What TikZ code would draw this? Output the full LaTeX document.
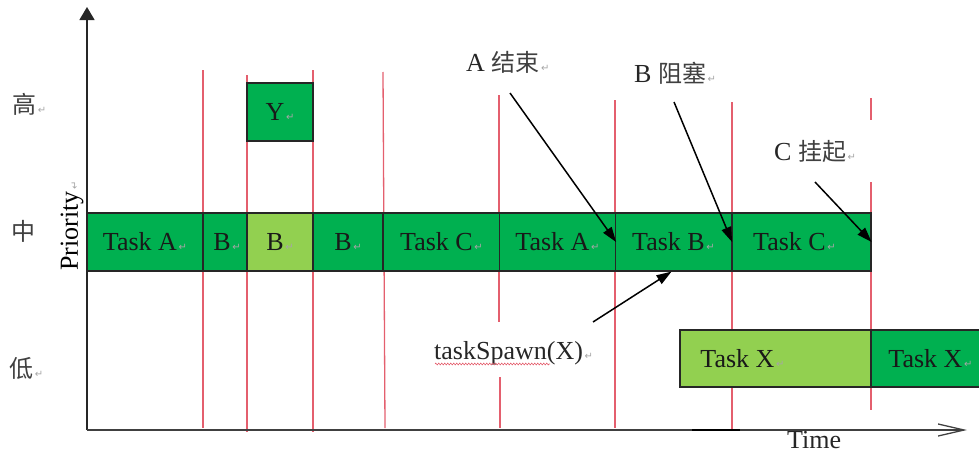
\documentclass[tikz,border=0pt]{standalone}
\usepackage{fontspec}
\setmainfont{Liberation Serif}
\newfontfamily\cjk{Noto Sans CJK SC}
\newfontfamily\symfont{DejaVu Sans}
\usetikzlibrary{arrows.meta,decorations.pathmorphing}

% Word-style paragraph mark after each text
\newcommand{\retmark}{{\symfont\fontsize{10}{10}\selectfont\color{black!35}\,↵}}
\newcommand{\zh}[1]{{\cjk\fontsize{24}{24}\selectfont\color{black!75}#1}}
% invisible padding to push a box label to the left
\newcommand{\padright}[1]{\rule{#1}{0pt}}

\definecolor{dkgreen}{RGB}{0,176,80}
\definecolor{ltgreen}{RGB}{146,208,80}
\definecolor{tickred}{RGB}{228,95,110}

\begin{document}
\begin{tikzpicture}[x=1pt,y=-1pt,
  seg/.style={draw=black!85, line width=1.2pt, minimum height=58pt,
    inner sep=0pt, font=\fontsize{26}{26}\selectfont, text=black!90},
  runbox/.style={seg, fill=dkgreen},
  waitbox/.style={seg, fill=ltgreen},
  tickline/.style={draw=tickred, line width=1.3pt},
  note/.style={anchor=west, inner sep=0pt, font=\fontsize{26}{26}\selectfont, text=black!85},
  cjklabel/.style={anchor=west, inner sep=0pt, font=\cjk\fontsize{24}{24}\selectfont, text=black!75},
  pointer/.style={line width=1.5pt, -{Triangle[length=15pt,width=10pt]}}]
\clip (0,0) rectangle (979,455);

% time marks
\draw[tickline] (203,70) -- (203,428);
\draw[tickline] (247,75) -- (247,432);
\draw[tickline] (313,70) -- (313,432);
\draw[tickline] (383,72) -- (385,428);
\draw[tickline] (499,95) -- (499,322);
\draw[tickline] (500,377) -- (500,428);
\draw[tickline] (615,100) -- (615,428);
\draw[tickline] (732,102) -- (732,430);
\draw[tickline] (871,98) -- (871,120);
\draw[tickline] (871,182) -- (871,410);

% axes
\coordinate (origin) at (87,430);
\coordinate (ytop) at (87,7);
\coordinate (xend) at (967,430);
\draw[line width=1.5pt, black!85, -{Triangle[length=13pt,width=15pt]}] (origin) -- (ytop);
\draw[line width=1.3pt, black!75, -{Straight Barb[length=26pt,width=12pt]}] (origin) -- (xend);
\coordinate (busyA) at (692,430);
\coordinate (busyB) at (740,430);
\draw[line width=2.8pt] (busyA) -- (busyB);

% priority levels
\node[cjklabel] (hi) at (12,104) {高\retmark};
\node[cjklabel] (mid) at (11,231) {中};
\node[cjklabel] (lo) at (9,368) {低\retmark};
\node[rotate=90, inner sep=0pt, font=\fontsize{26}{26}\selectfont] (prio) at (72,226) {Priority\retmark};
\node[note] (time) at (787,440) {Time};

% high priority task
\node[runbox, minimum width=66pt] (y) at (280,112) {Y\retmark};

% medium priority row
\node[runbox, minimum width=116pt] (ta1) at (145,242) {Task A\retmark};
\node[runbox, minimum width=44pt] (b1) at (225,242) {\hspace{4pt}B\retmark};
\node[waitbox, minimum width=66pt] (b2) at (280,242) {B\retmark};
\node[runbox, minimum width=70pt] (b3) at (348,242) {B\retmark};
\node[runbox, minimum width=117pt] (tc1) at (441.5,242) {Task C\retmark};
\node[runbox, minimum width=116pt] (ta2) at (557.5,242) {Task A\retmark};
\node[runbox, minimum width=116pt] (tb) at (673.5,242) {Task B\retmark};
\node[runbox, minimum width=139pt] (tc2) at (801.5,242) {Task C\retmark\padright{14pt}};

% low priority row
\node[waitbox, minimum width=191pt, minimum height=57pt] (tx1) at (775.5,358.5) {Task X\retmark\padright{66pt}};
\node[runbox, minimum width=119pt, minimum height=57pt] (tx2) at (930.5,358.5) {Task X\retmark};

% event notes
\node[note] (aend) at (466,62) {A \zh{结束}\retmark};
\node[note] (bblk) at (634,73) {B \zh{阻塞}\retmark};
\node[note] (csus) at (774,151) {C \zh{挂起}\retmark};
\node[note] (spawn) at (434,353) {taskSpawn(X)\retmark};
\draw[tickred, line width=0.6pt, decorate,
  decoration={zigzag, amplitude=0.9pt, segment length=3pt}]
  (435,364) -- (550,364);

\coordinate (aendtail) at (510,93);
\coordinate (bblktail) at (674,102);
\coordinate (csustail) at (815,182);
\coordinate (spawntail) at (593,322);
\draw[pointer] (aendtail) -- (ta2.east);
\draw[pointer] (bblktail) -- (tb.east);
\draw[pointer] (csustail) -- (tc2.east);
\draw[pointer] (spawntail) -- ([xshift=-2pt]tb.south);
\end{tikzpicture}
\end{document}
